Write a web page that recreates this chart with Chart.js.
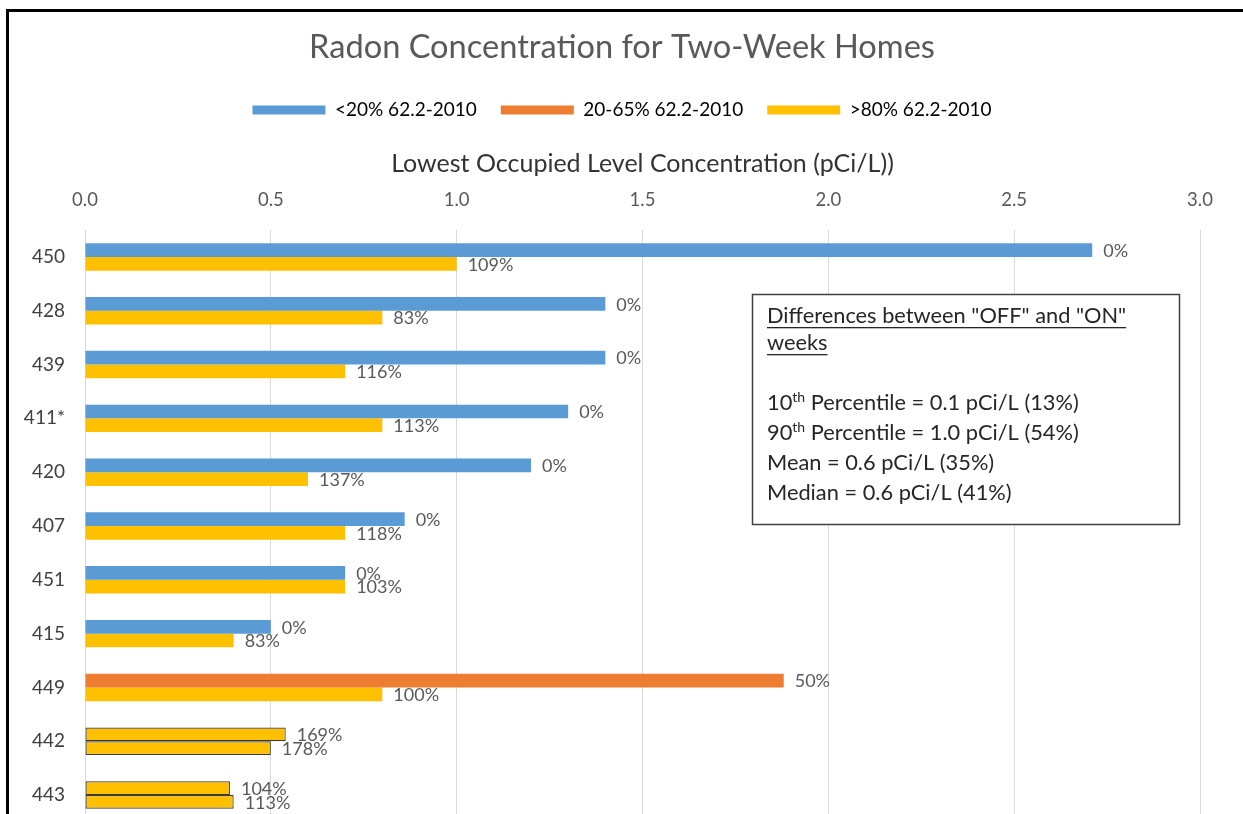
<!DOCTYPE html>
<html>
<head>
<meta charset="utf-8">
<title>Radon Concentration for Two-Week Homes</title>
<script src="https://cdn.jsdelivr.net/npm/chart.js@4.4.1/dist/chart.umd.min.js"></script>
<style>
  html, body { margin: 0; padding: 0; background: #fff; overflow: hidden; }
  #wrap { position: relative; width: 1243px; height: 822px; }
</style>
</head>
<body>
<div id="wrap"><canvas id="myChart"></canvas></div>
<script>
// homes, top to bottom
const homes = ['450', '428', '439', '411*', '420', '407', '451', '415', '449', '442', '443'];
// upper bar of each pair and lower bar (pCi/L)
const offWeek = [2.71, 1.40, 1.40, 1.30, 1.20, 0.86, 0.70, 0.50, 1.88, 0.54, 0.39];
const onWeek = [1.00, 0.80, 0.70, 0.80, 0.60, 0.70, 0.70, 0.40, 0.80, 0.50, 0.40];
// % of 62.2-2010 printed at the end of each bar
const offPct = [0, 0, 0, 0, 0, 0, 0, 0, 50, 169, 104];
const onPct = [109, 83, 116, 113, 137, 118, 103, 83, 100, 178, 113];
// ventilation group of the upper bar (index into groupNames)
const offGroup = [0, 0, 0, 0, 0, 0, 0, 0, 1, 2, 2];
const groupNames = ['<20% 62.2-2010', '20-65% 62.2-2010', '>80% 62.2-2010'];
const xTicks = [0, 0.5, 1.0, 1.5, 2.0, 2.5, 3.0];
const noteTitle = ['Differences between "OFF" and "ON"', 'weeks'];
const noteLines = [
  ['10', 'th', ' Percentile = 0.1 pCi/L (13%)'],
  ['90', 'th', ' Percentile = 1.0 pCi/L (54%)'],
  ['Mean = 0.6 pCi/L (35%)', '', ''],
  ['Median = 0.6 pCi/L (41%)', '', '']
];

const FONT = 'Lato, "Open Sans", sans-serif';
const groupColors = ['#5B9BD5', '#ED7D31', '#FFC000'];
const PLOT_TOP = 230;

const offColors = offGroup.map(g => groupColors[g]);
const onColors = onWeek.map(() => groupColors[2]);
const edge = offGroup.map(g => (g === 2 ? 1.2 : 0));

const extras = {
  id: 'extras',
  beforeDraw(chart) {
    // black frame, left and top edges
    const ctx = chart.ctx;
    ctx.save();
    ctx.strokeStyle = '#000';
    ctx.lineWidth = 3;
    ctx.beginPath();
    ctx.moveTo(7.5, chart.height);
    ctx.lineTo(7.5, 10.5);
    ctx.lineTo(chart.width, 10.5);
    ctx.stroke();
    ctx.restore();
  },
  afterDatasetsDraw(chart) {
    const ctx = chart.ctx;
    ctx.save();
    ctx.font = '18px ' + FONT;
    ctx.fillStyle = '#595959';
    ctx.textBaseline = 'middle';
    [offPct, onPct].forEach((pcts, d) => {
      chart.getDatasetMeta(d).data.forEach((bar, i) => {
        ctx.fillText(pcts[i] + '%', bar.x + 11, bar.y + 1);
      });
    });
    ctx.restore();
  },
  afterDraw(chart) {
    // text box with the summary statistics
    const ctx = chart.ctx;
    ctx.save();
    ctx.fillStyle = '#fff';
    ctx.fillRect(752, 294, 428, 231);
    ctx.strokeStyle = '#404040';
    ctx.lineWidth = 1.5;
    ctx.strokeRect(752.5, 294.5, 427, 230);
    ctx.fillStyle = '#262626';
    ctx.textBaseline = 'middle';
    const big = '21.8px ' + FONT;
    const small = '14px ' + FONT;
    ctx.font = big;
    noteTitle.forEach((t, k) => {
      const y = 316 + 27 * k;
      ctx.fillText(t, 767, y);
      ctx.fillRect(767, y + 11, ctx.measureText(t).width, 1.3);
    });
    noteLines.forEach((l, k) => {
      const y = 403 + 30 * k;
      let x = 767;
      ctx.font = big;
      ctx.fillText(l[0], x, y);
      x += ctx.measureText(l[0]).width;
      if (l[1]) {
        ctx.font = small;
        ctx.fillText(l[1], x, y - 6);
        x += ctx.measureText(l[1]).width;
        ctx.font = big;
        ctx.fillText(l[2], x, y);
      }
    });
    ctx.restore();
  }
};

const ctx = document.getElementById('myChart').getContext('2d');

new Chart(ctx, {
  type: 'bar',
  data: {
    labels: homes,
    datasets: [{
      label: 'OFF',
      data: offWeek,
      backgroundColor: offColors,
      borderColor: '#3a3a3a',
      borderWidth: edge,
      borderSkipped: false
    }, {
      label: 'ON',
      data: onWeek,
      backgroundColor: onColors,
      borderColor: '#3a3a3a',
      borderWidth: edge,
      borderSkipped: false
    }]
  },
  plugins: [extras],
  options: {
    indexAxis: 'y',
    responsive: true,
    maintainAspectRatio: false,
    animation: false,
    categoryPercentage: 0.51,
    barPercentage: 1.0,
    layout: { padding: { left: 20, right: 19, top: 0, bottom: 0 } },
    plugins: {
      title: {
        display: true,
        text: 'Radon Concentration for Two-Week Homes',
        color: '#595959',
        font: { family: FONT, size: 32.6, weight: 'normal' },
        padding: { top: 28.4, bottom: 9 }
      },
      legend: {
        display: true,
        onClick: null,
        labels: {
          boxWidth: 73,
          boxHeight: 9,
          padding: 24,
          color: '#595959',
          font: { family: FONT, size: 19 },
          generateLabels: () => groupNames.map((name, i) => ({
            text: name,
            fillStyle: groupColors[i],
            strokeStyle: groupColors[i],
            lineWidth: 0,
            hidden: false
          }))
        }
      },
      tooltip: { enabled: false }
    },
    scales: {
      x: {
        position: 'top',
        min: 0,
        max: 3,
        afterBuildTicks: (scale) => { scale.ticks = xTicks.map(v => ({ value: v })); },
        afterFit: (scale) => {
          const c = scale.chart;
          const used = (c.titleBlock ? c.titleBlock.height : 0) + (c.legend ? c.legend.height : 0);
          scale.height = PLOT_TOP - used;
        },
        title: {
          display: true,
          text: 'Lowest Occupied Level Concentration (pCi/L))',
          color: '#333333',
          font: { family: FONT, size: 25 },
          padding: { top: 19.5, bottom: 0 }
        },
        ticks: {
          color: '#595959',
          font: { family: FONT, size: 18.5 },
          padding: 19,
          maxRotation: 0,
          callback: (v) => Number(v).toFixed(1)
        },
        grid: { color: '#d9d9d9', drawTicks: false, tickLength: 0 },
        border: { display: false }
      },
      y: {
        afterFit: (scale) => {
          scale.width = 65;
          scale.paddingTop = 0;
          scale.paddingBottom = 0;
        },
        ticks: {
          color: '#404040',
          font: { family: FONT, size: 19 },
          padding: 20
        },
        grid: { display: false, drawTicks: false },
        border: { display: false }
      },
      // empty strip on the right so the plot ends at 3.0 and the title stays centred
      rightEdge: {
        type: 'linear',
        position: 'right',
        ticks: { display: false },
        grid: { display: false, drawTicks: false },
        border: { display: false },
        afterFit: (scale) => {
          scale.width = 24;
          scale.paddingTop = 0;
          scale.paddingBottom = 0;
        }
      }
    }
  }
});
</script>
</body>
</html>
